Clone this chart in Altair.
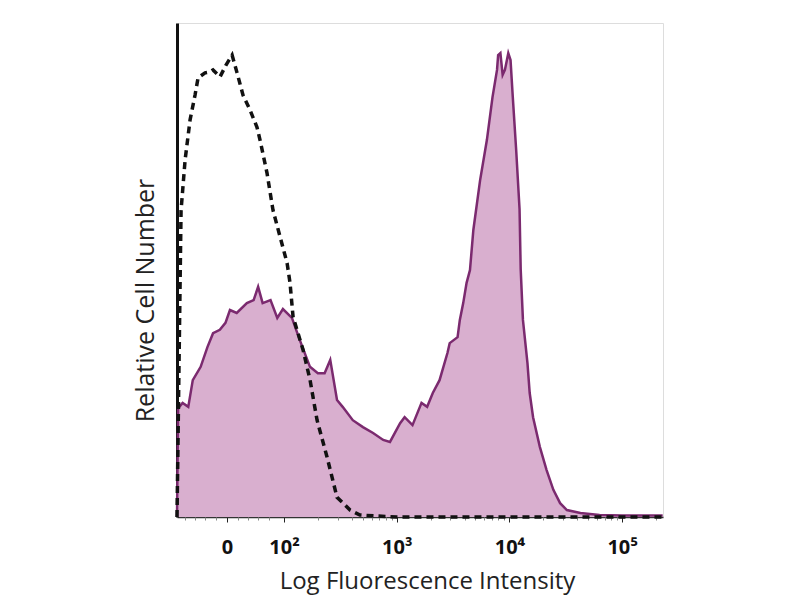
import altair as alt
import pandas as pd

# x positions are in display decades (logicle-like): 10^2 -> 2, 10^3 -> 3 ...
stain_x = [1.05, 1.06, 1.10, 1.15, 1.19, 1.26, 1.32, 1.37, 1.43, 1.48, 1.52, 1.58,
           1.67, 1.73, 1.77, 1.81, 1.88, 1.94, 1.99, 2.07, 2.14, 2.23, 2.30, 2.36,
           2.41, 2.47, 2.52, 2.61, 2.70, 2.79, 2.88, 2.94, 3.03, 3.07, 3.14, 3.22,
           3.27, 3.32, 3.38, 3.45, 3.47, 3.54, 3.56, 3.59, 3.62, 3.65, 3.68, 3.74,
           3.80, 3.85, 3.89, 3.90, 3.92, 3.94, 3.96, 3.99, 4.01, 4.03, 4.06, 4.09,
           4.10, 4.12, 4.16, 4.18, 4.21, 4.27, 4.33, 4.39, 4.45, 4.51, 4.63, 4.80,
           5.00, 5.36]
stain_y = [0.0, 22.0, 23.1, 22.3, 27.7, 30.4, 34.4, 37.2, 37.9, 39.3, 41.9, 41.3,
           43.3, 43.9, 46.6, 43.3, 43.9, 40.3, 42.1, 40.3, 35.8, 30.4, 29.1, 29.1,
           31.8, 23.7, 22.3, 19.6, 18.2, 17.0, 15.6, 15.2, 19.0, 20.2, 18.6, 23.1,
           22.3, 25.1, 27.7, 33.2, 35.2, 36.4, 39.9, 43.3, 47.4, 50.0, 58.1, 68.2,
           76.3, 85.0, 90.5, 93.5, 93.9, 89.5, 90.5, 93.9, 92.5, 85.0, 74.3, 62.3,
           50.2, 39.9, 31.2, 25.1, 20.2, 14.2, 9.5, 5.5, 2.8, 1.4, 0.8, 0.4,
           0.3, 0.3]

ctrl_x = [1.05, 1.086, 1.122, 1.166, 1.210, 1.237, 1.299, 1.343, 1.370, 1.432, 1.485,
          1.539, 1.583, 1.636, 1.698, 1.760, 1.787, 1.849, 1.902, 1.965, 2.027, 2.053,
          2.080, 2.169, 2.231, 2.293, 2.382, 2.470, 2.586, 2.674, 3.0, 4.0, 5.0, 5.36]
ctrl_y = [0.0, 62.1, 72.3, 80.4, 85.4, 88.9, 89.9, 90.1, 90.5, 89.1, 91.5,
          93.5, 89.9, 85.4, 82.4, 78.9, 76.3, 69.6, 62.1, 56.7, 51.4, 47.4,
          40.5, 33.8, 27.7, 19.6, 12.1, 4.0, 1.4, 0.4, 0.0, 0.0, 0.0, 0.0]

major_ticks = [1.494, 2, 3, 4, 5]
major_labels = ["0", "10²", "10³", "10⁴", "10⁵"]
minor_ticks = [1.12, 1.21, 1.30, 1.40, 1.59, 1.68, 1.77, 1.87,
               2.301, 2.477, 2.602, 2.699, 2.778, 2.845, 2.903, 2.954,
               3.301, 3.477, 3.602, 3.699, 3.778, 3.845, 3.903, 3.954,
               4.301, 4.477, 4.602, 4.699, 4.778, 4.845, 4.903, 4.954, 5.301]

stain = pd.DataFrame({"x": stain_x, "y": stain_y})
ctrl = pd.DataFrame({"x": ctrl_x, "y": ctrl_y})

label_expr = " : ".join(
    f"abs(datum.value - {v}) < 0.01 ? '{l}'" for v, l in zip(major_ticks, major_labels)
) + " : ''"

xscale = alt.Scale(domain=[1.05, 5.363], nice=False, zero=False)
yscale = alt.Scale(domain=[0, 100], nice=False)

font = "Open Sans"

yaxis = alt.Axis(
    title="Relative Cell Number", labels=False, ticks=False, grid=False,
    domainColor="#111", domainWidth=3, titleFont=font, titleFontSize=25,
    titleFontWeight="normal", titleColor="#222", titlePadding=19, titleY=277)

area = alt.Chart(stain).mark_area(
    color="#d9afcf", opacity=1,
    line={"color": "#7b2a6f", "strokeWidth": 2.5}, interpolate="linear"
).encode(
    x=alt.X("x:Q", scale=xscale, axis=alt.Axis(
        values=major_ticks, labelExpr=label_expr, title="Log Fluorescence Intensity",
        grid=False, tickSize=5, tickColor="#222", domainColor="#333", domainWidth=1.5,
        labelFont=font, labelFontSize=20, labelFontWeight="bold", labelColor="#111",
        labelPadding=15, titleFont=font, titleFontSize=24, titleFontWeight="normal",
        titleColor="#222", titlePadding=12, titleX=250)),
    y=alt.Y("y:Q", scale=yscale, axis=yaxis),
)

dashed = alt.Chart(ctrl).mark_line(
    color="#111", strokeWidth=3.5, strokeDash=[7, 5], interpolate="linear"
).encode(
    x=alt.X("x:Q", scale=xscale, axis=alt.Axis(
        values=minor_ticks, labels=False, title=None, grid=False, domain=False,
        tickSize=3, tickColor="#888", orient="bottom")),
    y=alt.Y("y:Q", scale=yscale, axis=yaxis),
)

chart = alt.layer(area, dashed).resolve_axis(x="independent", y="shared").properties(
    width=486, height=494, autosize="none",
    padding={"left": 169, "top": 15, "right": 120, "bottom": 80},
).configure_view(stroke="#777", strokeWidth=2).configure(background="white")

chart.save("out.html", embed_options={"renderer": "svg", "actions": False})
